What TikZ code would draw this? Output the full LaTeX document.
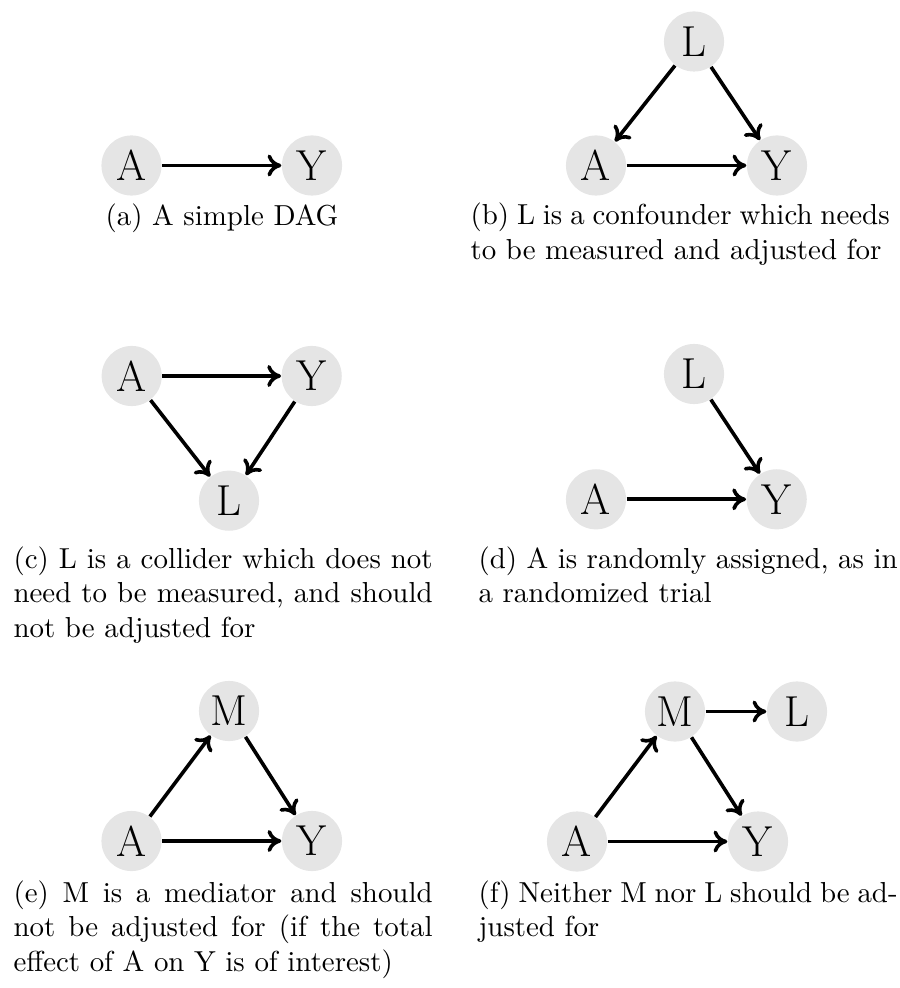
\documentclass[tikz,border=0pt]{standalone}
\usepackage{fontspec}
\usetikzlibrary{arrows.meta}
\begin{document}
\begin{tikzpicture}[x=0.346pt,y=-0.346pt,
    var/.style={circle,fill=black!10,minimum size=20.8pt,inner sep=0pt,font=\fontsize{15}{18}\selectfont},
    edge/.style={-{To[length=4.8pt,width=7.6pt]},line width=1.25pt},
    subcap/.style={anchor=base west,text width=145pt,align=justify,inner sep=0pt}]
    \useasboundingbox (0,0) rectangle (899,988);
    % (a) simple DAG
    \node[var] (aA) at (131.5,165.5) {A};
    \node[var] (aY) at (312,165.5) {Y};
    \draw[edge] (aA) -- (aY);
    \node[anchor=base,inner sep=0pt] (acap) at (222,226) {(a) A simple DAG};
    % (b) confounder
    \node[var] (bL) at (694,41.5) {L};
    \node[var] (bA) at (596,165.5) {A};
    \node[var] (bY) at (777,165.5) {Y};
    \draw[edge] (bL) -- (bA);
    \draw[edge] (bL) -- (bY);
    \draw[edge] (bA) -- (bY);
    \node[subcap] (bcap) at (470,225) {(b) L is a confounder which needs to be measured and adjusted for};
    % (c) collider
    \node[var] (cA) at (131.7,376) {A};
    \node[var] (cY) at (311.7,376) {Y};
    \node[var] (cL) at (229,500.7) {L};
    \draw[edge] (cA) -- (cY);
    \draw[edge] (cA) -- (cL);
    \draw[edge] (cY) -- (cL);
    \node[subcap] (ccap) at (13,568) {(c) L is a collider which does not need to be measured, and should not be adjusted for};
    % (d) randomized
    \node[var] (dL) at (694,374) {L};
    \node[var] (dA) at (596,499.3) {A};
    \node[var] (dY) at (776.7,499.3) {Y};
    \draw[edge] (dL) -- (dY);
    \draw[edge] (dA) -- (dY);
    \node[subcap] (dcap) at (478,568) {(d) A is randomly assigned, as in a randomized trial};
    % (e) mediator
    \node[var] (eM) at (229,711) {M};
    \node[var] (eA) at (131.5,841) {A};
    \node[var] (eY) at (312,841) {Y};
    \draw[edge] (eA) -- (eM);
    \draw[edge] (eM) -- (eY);
    \draw[edge] (eA) -- (eY);
    \node[subcap] (ecap) at (13,902) {(e) M is a mediator and should not be adjusted for (if the total effect of A on Y is of interest)};
    % (f) mediator and descendant
    \node[var] (fM) at (675,711.5) {M};
    \node[var] (fL) at (797,711.5) {L};
    \node[var] (fA) at (577,841.5) {A};
    \node[var] (fY) at (758,841.5) {Y};
    \draw[edge] (fM) -- (fL);
    \draw[edge] (fA) -- (fM);
    \draw[edge] (fM) -- (fY);
    \draw[edge] (fA) -- (fY);
    \node[subcap] (fcap) at (478,902) {(f) Neither M nor L should be adjusted for};
\end{tikzpicture}
\end{document}
